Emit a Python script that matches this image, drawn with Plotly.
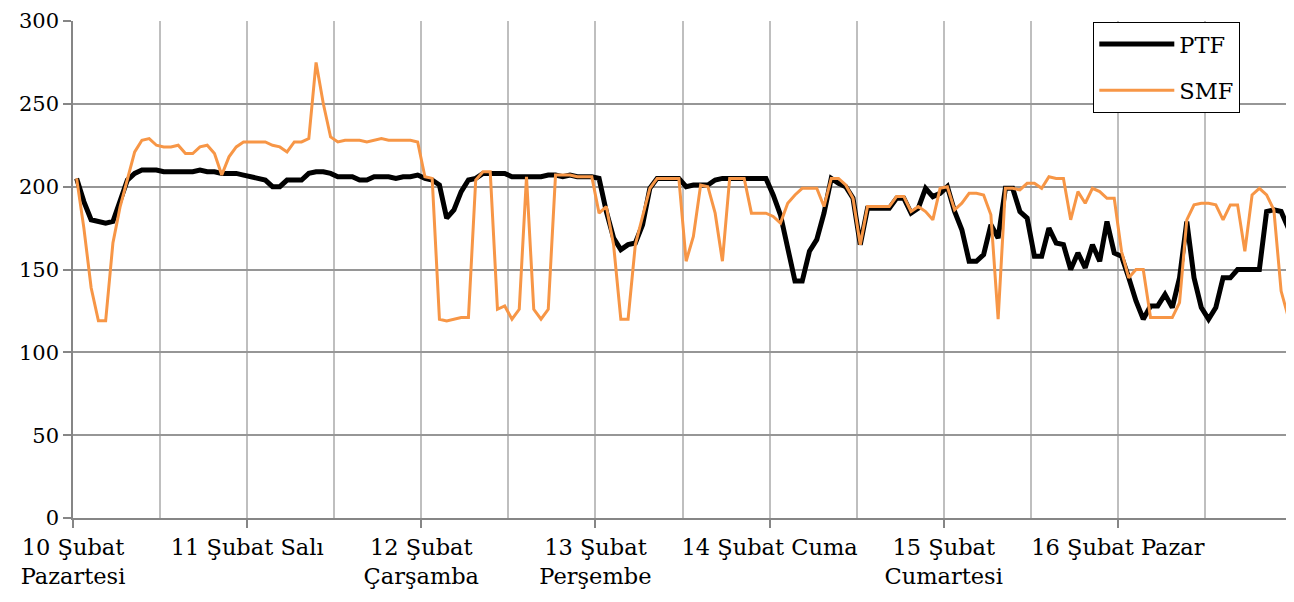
import plotly.graph_objects as go

# hourly values, 10-16 Subat (7 days x 24 hours)
ptf = [205, 191, 180, 179, 178, 179, 191, 204, 208, 210, 210, 210, 209, 209, 209, 209, 209, 210, 209, 209, 208, 208, 208, 207,
       206, 205, 204, 200, 200, 204, 204, 204, 208, 209, 209, 208, 206, 206, 206, 204, 204, 206, 206, 206, 205, 206, 206, 207,
       205, 204, 201, 181, 186, 197, 204, 205, 208, 208, 208, 208, 206, 206, 206, 206, 206, 207, 207, 206, 207, 206, 206, 206,
       205, 185, 169, 162, 165, 166, 177, 199, 205, 205, 205, 205, 200, 201, 201, 201, 204, 205, 205, 205, 205, 205, 205, 205,
       195, 183, 163, 143, 143, 161, 168, 184, 205, 202, 200, 193, 165, 187, 187, 187, 187, 193, 193, 184, 187, 199, 194, 196,
       200, 185, 174, 155, 155, 159, 177, 169, 199, 199, 185, 181, 158, 158, 175, 166, 165, 150, 160, 151, 165, 155, 179, 160,
       158, 145, 131, 120, 128, 128, 135, 127, 145, 179, 145, 127, 120, 127, 145, 145, 150, 150, 150, 150, 185, 186, 185, 175]

smf = [205, 175, 139, 119, 119, 166, 188, 204, 221, 228, 229, 225, 224, 224, 225, 220, 220, 224, 225, 220, 207, 218, 224, 227,
       227, 227, 227, 225, 224, 221, 227, 227, 229, 275, 250, 230, 227, 228, 228, 228, 227, 228, 229, 228, 228, 228, 228, 227,
       206, 205, 120, 119, 120, 121, 121, 204, 209, 209, 126, 128, 120, 126, 206, 126, 120, 126, 207, 207, 207, 206, 206, 206,
       184, 188, 165, 120, 120, 165, 182, 199, 205, 205, 205, 205, 155, 170, 201, 200, 184, 155, 205, 205, 205, 184, 184, 184,
       182, 178, 190, 195, 199, 199, 199, 188, 205, 205, 201, 193, 165, 188, 188, 188, 188, 194, 194, 185, 188, 185, 180, 199,
       200, 186, 190, 196, 196, 195, 183, 120, 199, 199, 198, 202, 202, 199, 206, 205, 205, 180, 197, 190, 199, 197, 193, 193,
       161, 145, 150, 150, 121, 121, 121, 121, 130, 180, 189, 190, 190, 189, 180, 189, 189, 161, 195, 199, 195, 186, 137, 121]

day_labels = ["10 Şubat<br>Pazartesi", "11 Şubat Salı", "12 Şubat<br>Çarşamba", "13 Şubat<br>Perşembe",
              "14 Şubat Cuma", "15 Şubat<br>Cumartesi", "16 Şubat Pazar", ""]

hours = list(range(len(ptf)))
day_ticks = [24 * d - 0.5 for d in range(8)]
half_ticks = [12 * h - 0.5 for h in range(15)]

fig = go.Figure()
fig.add_trace(go.Scatter(x=hours, y=ptf, mode='lines', name='PTF', legendgroup='a',
                         line=dict(color='black', width=5)))
fig.add_trace(go.Scatter(x=hours, y=smf, mode='lines', name='SMF', legendgroup='b',
                         line=dict(color='#F79646', width=3)))

# page body has an 8px margin, so the figure is shrunk by that much
fig.update_layout(
    width=1286, height=594,
    margin=dict(l=65, r=2, t=13, b=84),
    plot_bgcolor='white', paper_bgcolor='white',
    font=dict(family='DejaVu Serif', size=22.5, color='black'),
    showlegend=True,
    legend=dict(x=0.837, y=0.998, xanchor='left', yanchor='top', bgcolor='white',
                bordercolor='black', borderwidth=1, tracegroupgap=14, itemwidth=75,
                font=dict(family='DejaVu Serif', size=22.5)),
    xaxis=dict(range=[-0.5, 167.5], tickmode='array', tickvals=day_ticks, ticktext=day_labels,
               ticks='outside', ticklen=8, tickcolor='#868686', tickwidth=1.5, automargin=False,
               showgrid=True, gridcolor='#BFBFBF', gridwidth=1.5,
               minor=dict(tickvals=half_ticks, showgrid=True, gridcolor='#BFBFBF', gridwidth=1.5, ticks=''),
               showline=True, linecolor='#868686', linewidth=1.5, zeroline=False),
    yaxis=dict(range=[0, 300], tickmode='array', tickvals=[0, 50, 100, 150, 200, 250, 300],
               ticks='outside', ticklen=8, tickcolor='#868686', tickwidth=1.5, ticklabeloverflow='allow',
               tickfont=dict(size=21), automargin=False,
               showgrid=True, gridcolor='#969696', gridwidth=1.5,
               showline=True, linecolor='#868686', linewidth=1.5, zeroline=False),
)

fig.write_html("out.html")
